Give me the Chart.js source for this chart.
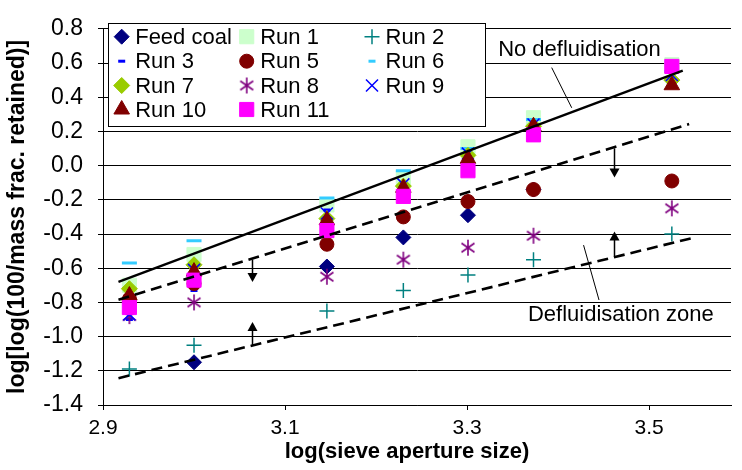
<!DOCTYPE html>
<html>
<head>
<meta charset="utf-8">
<script src="https://cdn.jsdelivr.net/npm/chart.js@4.4.1/dist/chart.umd.min.js"></script>
<style>
  body { margin: 0; background: #fff; }
  #wrap { width: 742px; height: 470px; }
</style>
</head>
<body>
<div id="wrap"><canvas id="myChart" width="742" height="470"></canvas></div>
<script>
// log10 of sieve aperture (x of each column)
var sieveX = [2.929, 3.0, 3.146, 3.230, 3.301, 3.373, 3.525];

// log[log(100/mass frac. retained)] per run
var feedCoal = [null, -1.15, -0.59, -0.42, -0.29, -0.14, null];
var run1  = [-0.70, -0.52, -0.23, -0.07, 0.11, 0.28, 0.59];
var run2  = [-1.19, -1.05, -0.85, -0.73, -0.64, -0.55, -0.40];
var run3  = [-0.90, -0.73, -0.26, -0.13, 0.08, 0.24, 0.52];
var run5  = [-0.78, -0.69, -0.46, -0.30, -0.21, -0.14, -0.09];
var run6  = [-0.57, -0.44, -0.19, -0.03, 0.10, 0.27, 0.55];
var run7  = [-0.72, -0.58, -0.31, -0.12, 0.06, 0.23, 0.50];
var run8  = [-0.88, -0.80, -0.65, -0.55, -0.48, -0.41, -0.25];
var run9  = [-0.87, -0.61, -0.28, -0.11, 0.07, 0.24, 0.53];
var run10 = [-0.76, -0.62, -0.32, -0.13, 0.04, 0.23, 0.47];
var run11 = [-0.83, -0.67, -0.38, -0.18, -0.03, 0.18, 0.58];

// boundary lines (end points)
var noDefX = [2.917, 3.537],  noDefY = [-0.68, 0.555];
var upperX = [2.917, 3.544],  upperY = [-0.785, 0.243];
var lowerX = [2.917, 3.549],  lowerY = [-1.243, -0.422];

// arrows between the dashed lines
var arrowX    = [3.064, 3.064, 3.461, 3.461];
var arrowFrom = [-0.55, -1.055, 0.101, -0.531];
var arrowTo   = [-0.68, -0.914, -0.069, -0.386];

var xTicks = [2.9, 3.1, 3.3, 3.5];
var yTicks = [-1.4, -1.2, -1.0, -0.8, -0.6, -0.4, -0.2, 0.0, 0.2, 0.4, 0.6, 0.8];

var seriesNames  = ["Feed coal", "Run 1", "Run 2", "Run 3", "Run 5", "Run 6", "Run 7", "Run 8", "Run 9", "Run 10", "Run 11"];
var seriesValues = [feedCoal, run1, run2, run3, run5, run6, run7, run8, run9, run10, run11];

var FONT = '"Liberation Sans", Arial, sans-serif';

function asterisk(color) {
    var c = document.createElement('canvas');
    c.width = 18; c.height = 18;
    var g = c.getContext('2d');
    g.strokeStyle = color;
    g.lineWidth = 1.6;
    g.beginPath();
    g.moveTo(9, 1); g.lineTo(9, 17);
    g.moveTo(2.5, 4.5); g.lineTo(15.5, 13.5);
    g.moveTo(15.5, 4.5); g.lineTo(2.5, 13.5);
    g.stroke();
    return c;
}

var seriesColors = ["#000080", "#ccffcc", "#008080", "#0000ff", "#800000", "#33ccff", "#99cc00", "#800080", "#0000ff", "#800000", "#ff00ff"];
var seriesStyles = ["rectRot", "rect", "cross", "line", "circle", "line", "rectRot", asterisk("#800080"), "crossRot", "triangle", "rect"];
var seriesRadius = [7.5, 10, 7.5, 3.5, 7, 7.5, 8, 9, 8.5, 9, 10];
var seriesBorder = [1, 1, 1.5, 3, 1, 3, 1, 1.6, 1.5, 1, 1];

var datasets = [];
seriesNames.forEach(function (name, i) {
    var pts = [];
    sieveX.forEach(function (x, j) {
        if (seriesValues[i][j] !== null) pts.push({ x: x, y: seriesValues[i][j] });
    });
    datasets.push({
        label: name,
        data: pts,
        order: 100 - i,
        pointStyle: seriesStyles[i],
        pointRadius: seriesRadius[i],
        pointBorderWidth: seriesBorder[i],
        backgroundColor: seriesColors[i],
        borderColor: seriesColors[i]
    });
});

function boundary(xs, ys, dash) {
    return {
        label: '',
        data: xs.map(function (x, i) { return { x: x, y: ys[i] }; }),
        showLine: true,
        order: 0,
        pointRadius: 0,
        borderColor: '#000',
        borderWidth: dash ? 2.6 : 2.4,
        borderDash: dash ? [11, 6] : [],
        fill: false
    };
}
datasets.push(boundary(noDefX, noDefY, false));
datasets.push(boundary(upperX, upperY, true));
datasets.push(boundary(lowerX, lowerY, true));

var overlay = {
    id: 'overlay',
    afterDatasetsDraw: function (chart) {
        var ctx = chart.ctx, xs = chart.scales.x, ys = chart.scales.y;
        ctx.save();

        // arrows
        ctx.strokeStyle = '#000';
        ctx.fillStyle = '#000';
        ctx.lineWidth = 1.5;
        arrowX.forEach(function (ax, i) {
            var px = Math.round(xs.getPixelForValue(ax)) + 0.5;
            var y0 = ys.getPixelForValue(arrowFrom[i]);
            var y1 = ys.getPixelForValue(arrowTo[i]);
            var d = y1 > y0 ? 1 : -1;
            ctx.beginPath();
            ctx.moveTo(px, y0);
            ctx.lineTo(px, y1 - d * 8);
            ctx.stroke();
            ctx.beginPath();
            ctx.moveTo(px, y1);
            ctx.lineTo(px - 5, y1 - d * 9);
            ctx.lineTo(px + 5, y1 - d * 9);
            ctx.closePath();
            ctx.fill();
        });

        // leader lines to the labels
        ctx.lineWidth = 1;
        ctx.beginPath();
        ctx.moveTo(xs.getPixelForValue(3.393), ys.getPixelForValue(0.573));
        ctx.lineTo(xs.getPixelForValue(3.415), ys.getPixelForValue(0.338));
        ctx.moveTo(xs.getPixelForValue(3.428), ys.getPixelForValue(-0.465));
        ctx.lineTo(xs.getPixelForValue(3.445), ys.getPixelForValue(-0.786));
        ctx.stroke();

        ctx.font = '22px ' + FONT;
        ctx.textAlign = 'center';
        ctx.textBaseline = 'middle';
        ctx.fillText('No defluidisation', xs.getPixelForValue(3.4235), ys.getPixelForValue(0.679));
        ctx.fillText('Defluidisation zone', xs.getPixelForValue(3.469), ys.getPixelForValue(-0.873));

        // x axis title (sits left of the plot centre in the original)
        ctx.font = 'bold 22px ' + FONT;
        ctx.fillText('log(sieve aperture size)', 407, 452);

        // legend box
        var bx = 108, by = 23, bw = 377, bh = 103;
        ctx.fillStyle = '#fff';
        ctx.fillRect(bx, by, bw, bh);
        ctx.strokeStyle = '#000';
        ctx.lineWidth = 1;
        ctx.strokeRect(bx + 0.5, by + 0.5, bw, bh);
        var colX = [121.7, 246.7, 372];
        var rowY = [36.7, 61.2, 85.5, 109.5];
        ctx.font = '22px ' + FONT;
        ctx.textAlign = 'left';
        seriesNames.forEach(function (name, i) {
            var cx = colX[i % 3], cy = rowY[Math.floor(i / 3)];
            ctx.fillStyle = seriesColors[i];
            ctx.strokeStyle = seriesColors[i];
            ctx.lineWidth = seriesBorder[i];
            var r = seriesRadius[i];
            if (seriesStyles[i] === 'line') r = Math.min(r, 3.5);
            Chart.helpers.drawPoint(ctx, { pointStyle: seriesStyles[i], radius: r, borderWidth: seriesBorder[i], rotation: 0 }, cx, cy);
            ctx.fillStyle = '#000';
            ctx.fillText(name, cx + 13.5, cy + 1);
        });
        ctx.restore();
    }
};

new Chart('myChart', {
    type: 'scatter',
    data: { datasets: datasets },
    options: {
        responsive: false,
        animation: false,
        layout: { padding: { top: 17, right: 0, left: 0, bottom: 0 } },
        plugins: { legend: { display: false }, tooltip: { enabled: false } },
        scales: {
            x: {
                type: 'linear',
                min: 2.9,
                max: 3.59,
                afterBuildTicks: function (s) { s.ticks = xTicks.map(function (v) { return { value: v }; }); },
                afterFit: function (s) { s.height = 65; },
                grid: { drawOnChartArea: false, color: '#000', tickLength: 5 },
                border: { color: '#000', width: 1 },
                ticks: {
                    color: '#000', padding: 6, maxRotation: 0,
                    font: { family: FONT, size: 21 },
                    callback: function (v) { return Number(v).toFixed(1); }
                }
            },
            y: {
                type: 'linear',
                min: -1.4,
                max: 0.8,
                afterBuildTicks: function (s) { s.ticks = yTicks.map(function (v) { return { value: v }; }); },
                afterFit: function (s) { s.width = 103; },
                grid: { color: '#000', tickLength: 5 },
                border: { color: '#000', width: 1 },
                ticks: {
                    color: '#000', padding: 15,
                    font: { family: FONT, size: 23 },
                    callback: function (v) { return Number(v).toFixed(1); }
                },
                title: {
                    display: true, text: 'log[log(100/mass frac. retained)]', color: '#000',
                    font: { family: FONT, size: 23, weight: 'bold' },
                    padding: { top: 4, bottom: 0 }
                }
            }
        }
    },
    plugins: [overlay]
});
</script>
</body>
</html>
